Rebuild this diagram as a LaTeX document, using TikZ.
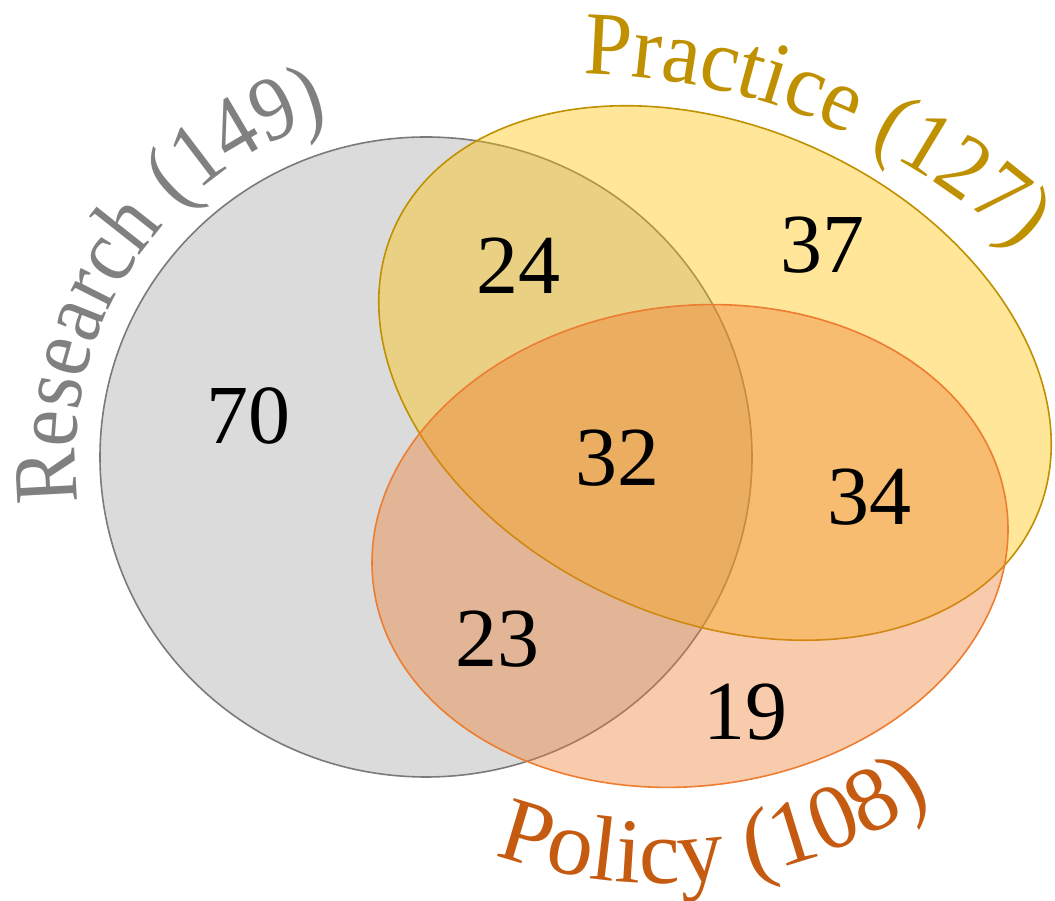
\documentclass[tikz,border=0pt]{standalone}
\usepackage{fontspec}
\setmainfont{Liberation Serif}
\newfontfamily\resfont[FakeStretch=0.9]{Liberation Serif}
\newfontfamily\pracfont[FakeStretch=0.95]{Liberation Serif}
\newfontfamily\polfont{Liberation Serif}
\usetikzlibrary{decorations.text}
\definecolor{resfill}{HTML}{A5A5A5}
\definecolor{resline}{HTML}{7A7A7A}
\definecolor{pracfill}{HTML}{FFC000}
\definecolor{pracline}{HTML}{BF9000}
\definecolor{polfill}{HTML}{ED7D31}
\definecolor{polline}{HTML}{ED7D31}
\definecolor{reslab}{HTML}{808080}
\definecolor{praclab}{HTML}{BF9000}
\definecolor{pollab}{HTML}{C55A11}
\tikzset{
  setshape/.style={line width=1.6pt, fill opacity=0.4},
  num/.style={font=\fontsize{84}{84}\selectfont, text=black, inner sep=0pt},
}
\begin{document}
\begin{tikzpicture}[x=1pt,y=1pt]
\useasboundingbox (0,0) rectangle (1055,901);
% sets
\draw[setshape, draw=resline, fill=resfill] (426,444) ellipse [x radius=326, y radius=320];
\draw[setshape, draw=pracline, fill=pracfill, rotate around={-24.5:(715,528)}] (715,528) ellipse [x radius=352, y radius=246];
\draw[setshape, draw=polline, fill=polfill, rotate around={7:(690,355)}] (690,355) ellipse [x radius=319, y radius=240];
% counts
\node[num] (n70) at (248,485) {70};
\node[num] (n24) at (518,635) {24};
\node[num] (n37) at (822,656) {37};
\node[num] (n32) at (617,443) {32};
\node[num] (n34) at (869,404) {34};
\node[num] (n23) at (497,262) {23};
\node[num] (n19) at (745,189) {19};
% curved labels
\path[decorate, decoration={text along path, text align=left, text color=reslab,
  text={|\resfont\fontsize{91}{91}\selectfont|Research (149)}}]
  (426,444) ++(187.5:350) arc[start angle=187.5, end angle=60, radius=350];
\path[decorate, decoration={text along path, text align=left, text color=praclab,
  text={|\pracfont\fontsize{90}{90}\selectfont|Practice (127)}}]
  (574,171) ++(89.2:656) arc[start angle=89.2, end angle=20, radius=656];
\path[decorate, decoration={text along path, text align=left, text color=pollab,
  text={|\polfont\fontsize{92}{92}\selectfont|Policy (108)}}]
  (658,505) ++(250.4:487) arc[start angle=250.4, end angle=330, radius=487];
\end{tikzpicture}
\end{document}
